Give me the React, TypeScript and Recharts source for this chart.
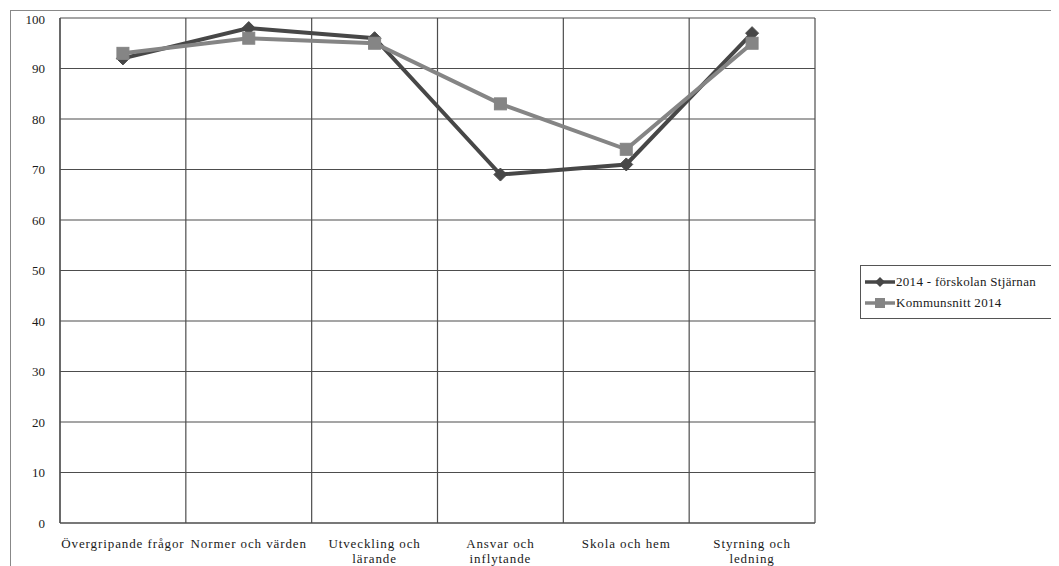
import { CartesianGrid, ComposedChart, Line, XAxis, YAxis } from 'recharts'

const categories = [
  'Övergripande frågor',
  'Normer och värden',
  'Utveckling och\nlärande',
  'Ansvar och\ninflytande',
  'Skola och hem',
  'Styrning och\nledning',
]
const stjarnan = [92, 98, 96, 69, 71, 97]
const kommunsnitt = [93, 96, 95, 83, 74, 95]
const yTicks = [0, 10, 20, 30, 40, 50, 60, 70, 80, 90, 100]
const boundaries = [0, 1, 2, 3, 4, 5, 6]

const SERIES = [
  { key: 'stjarnan', name: '2014 - förskolan Stjärnan', color: '#474747', shape: 'diamond' },
  { key: 'kommunsnitt', name: 'Kommunsnitt 2014', color: '#858585', shape: 'square' },
]

// pos = middle of each category band, used by the hidden grid axis
const data = categories.map((name, i) => ({
  name,
  pos: i + 0.5,
  stjarnan: stjarnan[i],
  kommunsnitt: kommunsnitt[i],
}))

const FONT = "'Liberation Serif', 'DejaVu Serif', serif"
const PLOT_WIDTH = 755
const HALF_BAND = PLOT_WIDTH / categories.length / 2

function Diamond({ cx, cy, fill }: any) {
  if (cx == null || cy == null) return null
  const r = 6.5
  return (
    <path
      d={`M${cx},${cy - r} L${cx + r},${cy} L${cx},${cy + r} L${cx - r},${cy} Z`}
      fill={fill}
      stroke={fill}
    />
  )
}

function Square({ cx, cy, fill }: any) {
  if (cx == null || cy == null) return null
  const s = 6
  return <rect x={cx - s} y={cy - s} width={s * 2} height={s * 2} fill={fill} stroke={fill} />
}

function CategoryTick({ x, y, payload }: any) {
  const lines = String(payload.value).split('\n')
  return (
    <text
      x={x}
      y={y + 17}
      textAnchor="middle"
      fill="#1a1a1a"
      fontSize={13}
      letterSpacing={0.9}
      fontFamily={FONT}
    >
      {lines.map((line, i) => (
        <tspan key={i} x={x} dy={i === 0 ? 0 : 15}>
          {line}
        </tspan>
      ))}
    </text>
  )
}

function ChartLegend() {
  return (
    <div
      style={{
        position: 'absolute',
        left: 849,
        top: 254,
        width: 198,
        border: '1px solid #555',
        background: '#fff',
        padding: '5px 0 5px 4px',
        fontFamily: FONT,
        fontSize: 13,
        letterSpacing: 0.3,
        color: '#1a1a1a',
        whiteSpace: 'nowrap',
        overflow: 'hidden',
      }}
    >
      {SERIES.map((s) => (
        <div key={s.key} style={{ display: 'flex', alignItems: 'center', height: 21 }}>
          <svg width={30} height={12} style={{ marginRight: 1 }}>
            <line x1={0} y1={6} x2={30} y2={6} stroke={s.color} strokeWidth={3.5} />
            {s.shape === 'diamond' ? (
              <path d="M15,1 L20,6 L15,11 L10,6 Z" fill={s.color} />
            ) : (
              <rect x={10} y={1} width={10} height={10} fill={s.color} />
            )}
          </svg>
          <span>{s.name}</span>
        </div>
      ))}
    </div>
  )
}

export default function App() {
  return (
    <div
      style={{
        position: 'relative',
        marginLeft: 2,
        marginTop: 2,
        width: 1050,
        height: 570,
        border: '1px solid #888',
        background: '#fff',
      }}
    >
      <ComposedChart
        width={1050}
        height={560}
        data={data}
        margin={{ top: 7, right: 246, left: 0, bottom: 8 }}
      >
        <XAxis
          xAxisId="grid"
          dataKey="pos"
          type="number"
          domain={[0, 6]}
          allowDataOverflow
          ticks={boundaries}
          hide
        />
        <CartesianGrid xAxisId="grid" stroke="#4d4d4d" strokeWidth={1.2} />
        <XAxis
          xAxisId="cat"
          dataKey="name"
          interval={0}
          padding={{ left: HALF_BAND, right: HALF_BAND }}
          axisLine={{ stroke: '#4d4d4d', strokeWidth: 1.2 }}
          tickLine={false}
          tick={<CategoryTick />}
          height={40}
        />
        <YAxis
          domain={[0, 100]}
          ticks={yTicks}
          width={49}
          axisLine={{ stroke: '#4d4d4d', strokeWidth: 1.2 }}
          tickLine={false}
          tickMargin={9}
          tick={{ fill: '#1a1a1a', fontSize: 13, fontFamily: FONT }}
        />
        {SERIES.map((s) => (
          <Line
            key={s.key}
            xAxisId="cat"
            type="linear"
            dataKey={s.key}
            name={s.name}
            stroke={s.color}
            strokeWidth={4}
            fill={s.color}
            dot={s.shape === 'diamond' ? <Diamond fill={s.color} /> : <Square fill={s.color} />}
            activeDot={false}
            isAnimationActive={false}
          />
        ))}
      </ComposedChart>
      <ChartLegend />
    </div>
  )
}
